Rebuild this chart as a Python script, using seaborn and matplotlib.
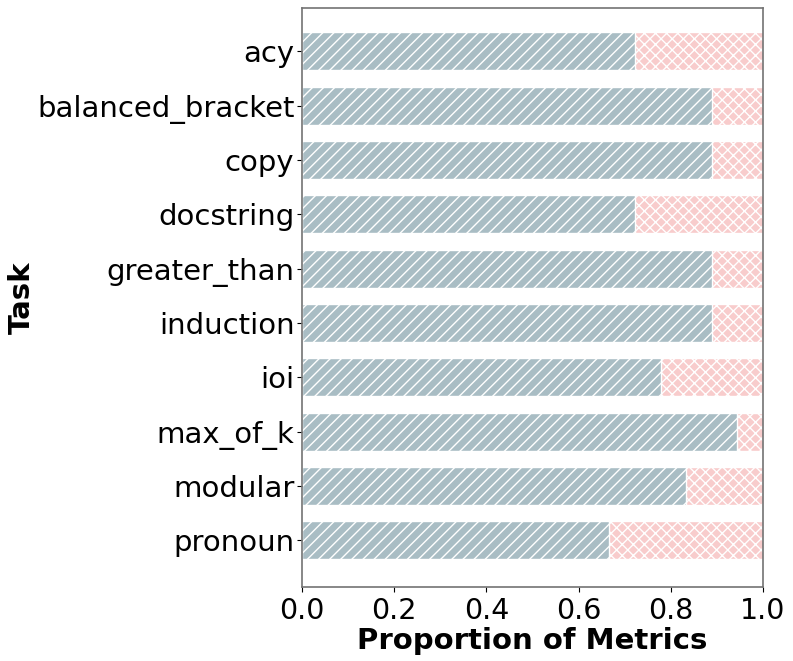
import matplotlib
matplotlib.use("Agg")
import matplotlib.pyplot as plt
import seaborn as sns
import pandas as pd

tasks = ["acy", "balanced_bracket", "copy", "docstring", "greater_than",
         "induction", "ioi", "max_of_k", "modular", "pronoun"]
proportion_a = [0.722, 0.889, 0.889, 0.722, 0.889, 0.889, 0.778, 0.944, 0.833, 0.667]
total = [1.0] * len(tasks)

df = pd.DataFrame({"Task": tasks, "A": proportion_a, "Total": total})

plt.rcParams["hatch.linewidth"] = 1.0
fig, ax = plt.subplots(figsize=(7.93, 6.61), dpi=100)

sns.barplot(data=df, y="Task", x="Total", orient="h", color="#f8cccc",
            width=0.7, hatch="xxx", edgecolor="white", linewidth=1, ax=ax,
            saturation=1)
sns.barplot(data=df, y="Task", x="A", orient="h", color="#a9bdc4",
            width=0.7, hatch="///", edgecolor="white", linewidth=1, ax=ax,
            saturation=1)

ax.set_xlim(0, 1.0)
ax.set_ylim(9.86, -0.80)
ax.set_xlabel("Proportion of Metrics", fontsize=21, fontweight="bold", labelpad=2)
ax.set_ylabel("Task", fontsize=21, fontweight="bold", labelpad=1)
ax.tick_params(axis="x", labelsize=20.5)
ax.tick_params(axis="y", labelsize=21, length=3.5, pad=2)
ax.set_xticks([0.0, 0.2, 0.4, 0.6, 0.8, 1.0])
for s in ax.spines.values():
    s.set_color("0.45")
    s.set_linewidth(1.2)

fig.subplots_adjust(left=0.381, right=0.962, top=0.988, bottom=0.112)
fig.savefig("out.png", dpi=100)
